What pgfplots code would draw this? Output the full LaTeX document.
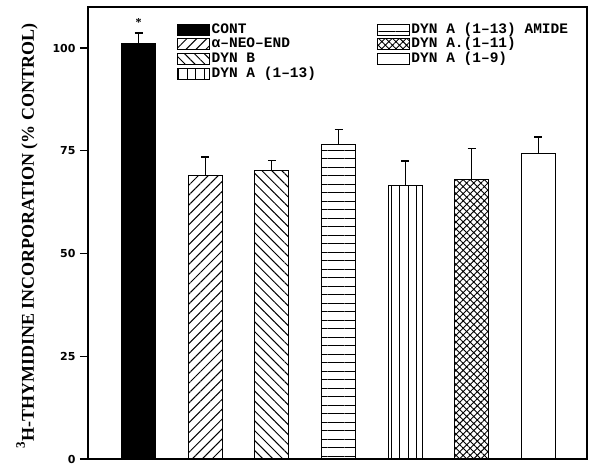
\documentclass[border=0pt]{standalone}
\usepackage{fontspec}
\setmainfont{Liberation Serif}
\newfontfamily\legfont{Liberation Mono}
\newfontfamily\tickfont{DejaVu Sans}
\usepackage{pgfplots}
\pgfplotsset{compat=1.18}
\usetikzlibrary{patterns.meta}
\begin{document}
\begin{tikzpicture}
\begin{axis}[
  scale only axis, width=499bp, height=452bp,
  xmin=-0.76, xmax=6.73, ymin=0, ymax=110,
  axis line style={line width=1.3bp},
  xtick=\empty,
  ytick={0,25,50,75,100},
  yticklabels={0,25,50,75,100},
  ytick pos=left,
  ytick style={line width=1.2bp, black},
  tick align=outside, major tick length=8bp,
  yticklabel style={font=\tickfont\bfseries\fontsize{11bp}{13bp}\selectfont, xshift=-1bp},
  ylabel={\bfseries\raisebox{1.1ex}{\fontsize{13bp}{13bp}\selectfont 3}H-THYMIDINE INCORPORATION (\% CONTROL)},
  ylabel style={font=\fontsize{18bp}{20bp}\selectfont, at={(-61bp,223bp)}, anchor=center, rotate=0},
  ybar, bar width=34bp, bar shift=0pt,
  every axis plot/.append style={draw=black, line width=1.1bp},
  error bars/y dir=plus, error bars/y explicit,
  error bars/error bar style={line width=1.2bp, black},
  error bars/error mark options={rotate=90, mark size=4bp, line width=1.4bp, black},
  legend columns=2,
  legend image code/.code={\draw[#1, line width=0.9bp] (0bp,-5.5bp) rectangle (32bp,5.5bp);},
  legend style={at={(rel axis cs:0.1725,0.968)}, anchor=north west, draw=none, fill=none,
    font=\legfont\bfseries\fontsize{14.5bp}{16bp}\selectfont,
    nodes={inner sep=0pt, text height=9bp, text depth=2bp},
    row sep=2.8bp,
    /tikz/every odd column/.style={column sep=1.5bp},
    /tikz/every even column/.style={column sep=61bp}},
  legend cell align=left,
]
\addplot[fill=black] coordinates {(0,101) +- (0,2.7)};
\addlegendentry{CONT}
\addplot[fill=white, pattern={Lines[angle=0, distance=8.5bp, line width=0.9bp]}] coordinates {(3,76.6) +- (0,3.6)};
\addlegendentry{DYN A (1–13) AMIDE}
\addplot[fill=white, pattern={Lines[angle=45, distance=7bp, line width=1bp]}] coordinates {(1,69.1) +- (0,4.4)};
\addlegendentry{α–NEO–END}
\addplot[fill=white, pattern={Hatch[angle=45, distance=5bp, line width=0.9bp]}] coordinates {(5,68.1) +- (0,7.5)};
\addlegendentry{DYN A.(1–11)}
\addplot[fill=white, pattern={Lines[angle=-45, distance=7bp, line width=1bp]}] coordinates {(2,70.3) +- (0,2.4)};
\addlegendentry{DYN B}
\addplot[fill=white] coordinates {(6,74.4) +- (0,4.0)};
\addlegendentry{DYN A (1–9)}
\addplot[fill=white, pattern={Lines[angle=90, distance=8.5bp, line width=0.9bp]}] coordinates {(4,66.5) +- (0,6.0)};
\addlegendentry{DYN A (1–13)}
\node[font=\bfseries\fontsize{12bp}{12bp}\selectfont] at (axis cs:0,106.2) {*};
\end{axis}
\pgfresetboundingbox
\path (-88bp,-14bp) rectangle (512bp,459bp);
\end{tikzpicture}
\end{document}
